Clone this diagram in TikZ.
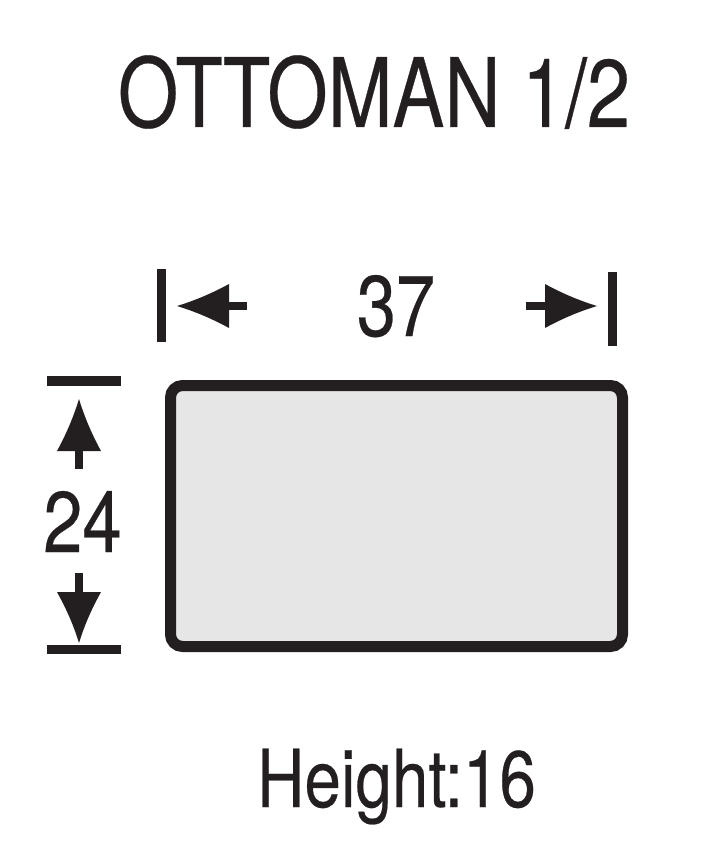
\documentclass[tikz,border=0pt]{standalone}
\usepackage{fontspec}
\newfontfamily\cond[FakeStretch=0.82,FakeBold=0.3]{TeX Gyre Heros}
\newfontfamily\condt[FakeStretch=0.81,FakeBold=0.3]{TeX Gyre Heros}
\definecolor{ink}{HTML}{231F20}
\definecolor{boxfill}{HTML}{E6E6E6}
\begin{document}
\begin{tikzpicture}[x=1pt,y=-1pt,
  lbl/.style={inner sep=0pt,anchor=base,text=ink,font=\cond},
  bar/.style={fill=ink,draw=none},
  head/.style={fill=ink,draw=none}]
\useasboundingbox (0,0) rectangle (722,864);
% title
\node[lbl,font=\condt\fontsize{96}{96}\selectfont] (title) at (374,127) {OTTOMAN 1/2};
% box
\draw[ink,line width=11pt,fill=boxfill,rounded corners=12pt] (170.5,385.5) rectangle (622.5,646.5);
\coordinate (box) at (396.5,516);
% width dimension
\node[lbl,font=\cond\fontsize{86}{86}\selectfont] (w) at (396,336) {37};
\fill[bar] (157,269) rectangle (166,342);
\fill[bar] (608,272) rectangle (617,346);
\fill[bar] (226,302) rectangle (247,310);
\fill[head] (177,306) .. controls (200,299) and (218,290) .. (229,284) -- (229,328) .. controls (218,322) and (200,313) .. (177,306) -- cycle;
\fill[bar] (526,302) rectangle (548,310);
\fill[head] (597,306) .. controls (574,299) and (556,290) .. (545,284) -- (545,328) .. controls (556,322) and (574,313) .. (597,306) -- cycle;
% depth dimension
\node[lbl,font=\cond\fontsize{86}{86}\selectfont] (d) at (82.5,552) {24};
\fill[bar] (47,376) rectangle (121,386);
\fill[bar] (47,645) rectangle (121,654);
\fill[bar] (75,448) rectangle (83,469);
\fill[head] (79,399) .. controls (86,422) and (95,440) .. (101,451) -- (57,451) .. controls (63,440) and (72,422) .. (79,399) -- cycle;
\fill[bar] (75,573) rectangle (83,595);
\fill[head] (79,643) .. controls (86,620) and (95,603) .. (101,592) -- (57,592) .. controls (63,603) and (72,620) .. (79,643) -- cycle;
% height
\node[lbl,font=\cond\fontsize{80}{80}\selectfont] (h) at (396.5,807) {Height:16};
\end{tikzpicture}
\end{document}
